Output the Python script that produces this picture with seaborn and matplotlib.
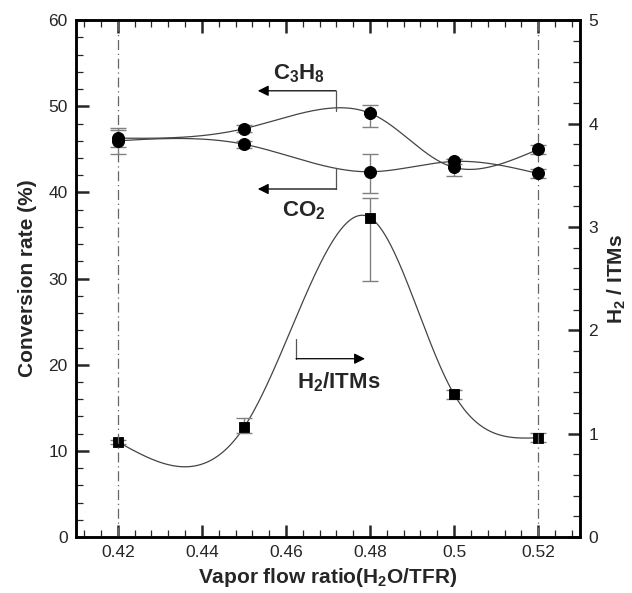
import numpy as np
import matplotlib
matplotlib.use("Agg")
import matplotlib.pyplot as plt
from matplotlib.ticker import MultipleLocator
import seaborn as sns
import pandas as pd

# Data
ratio = [0.42, 0.45, 0.48, 0.50, 0.52]

c3h8 = [46.3, 47.4, 49.2, 42.9, 45.0]
c3h8_lo = [1.0, 0.4, 1.6, 1.0, 0.5]
c3h8_hi = [1.0, 0.4, 1.0, 1.0, 0.5]

co2 = [46.0, 45.6, 42.4, 43.6, 42.2]
co2_lo = [1.5, 0.4, 2.5, 0.3, 0.5]
co2_hi = [1.5, 0.4, 2.1, 0.3, 0.5]

h2_itms = [0.92, 1.06, 3.09, 1.38, 0.96]
h2_lo = [0.02, 0.05, 0.61, 0.04, 0.045]
h2_hi = [0.02, 0.09, 0.19, 0.04, 0.045]

guide_x = [0.42, 0.52]

XLIM = (0.41, 0.53)


def natural_spline(t, y, ts):
    """Evaluate a natural cubic spline through (t, y) at ts"""
    t = np.asarray(t, float)
    y = np.asarray(y, float)
    m = len(t)
    h = np.diff(t)
    A = np.zeros((m, m))
    b = np.zeros(m)
    A[0, 0] = A[-1, -1] = 1
    for i in range(1, m - 1):
        A[i, i - 1] = h[i - 1]
        A[i, i] = 2 * (h[i - 1] + h[i])
        A[i, i + 1] = h[i]
        b[i] = 6 * ((y[i + 1] - y[i]) / h[i] - (y[i] - y[i - 1]) / h[i - 1])
    M = np.linalg.solve(A, b)
    k = np.clip(np.searchsorted(t, ts) - 1, 0, m - 2)
    hh = t[k + 1] - t[k]
    t0 = t[k + 1] - ts
    t1 = ts - t[k]
    return (M[k] * t0 ** 3 / (6 * hh) + M[k + 1] * t1 ** 3 / (6 * hh)
            + (y[k] / hh - M[k] * hh / 6) * t0
            + (y[k + 1] / hh - M[k + 1] * hh / 6) * t1)


def smooth_curve(x, y, ymax, weight=1.0, n=400):
    """Parametric spline through the points, chord length in plot space"""
    u = (np.asarray(x) - XLIM[0]) / (XLIM[1] - XLIM[0]) * 504
    v = np.asarray(y) / ymax * 517 * weight
    t = np.concatenate([[0], np.cumsum(np.hypot(np.diff(u), np.diff(v)))])
    ts = np.linspace(0, t[-1], n)
    return natural_spline(t, x, ts), natural_spline(t, y, ts)


sns.set_style("ticks")
plt.rcParams["font.family"] = ["Liberation Sans", "DejaVu Sans"]
plt.rcParams["mathtext.default"] = "regular"

df = pd.DataFrame({"ratio": ratio, "c3h8": c3h8, "co2": co2, "h2": h2_itms})

fig = plt.figure(figsize=(6.32, 5.93), dpi=100)
ax = fig.add_axes([0.120, 0.0944, 0.798, 0.8716])
ax2 = ax.twinx()

# Dash-dot guide lines
for gx in guide_x:
    ax.axvline(gx, color="#666666", lw=0.9, ls=(0, (8, 3, 1, 3)), zorder=1)

line_c = "#444444"
err_c = "#808080"

# Conversion rates (left axis)
for vals, lo, hi in [(c3h8, c3h8_lo, c3h8_hi), (co2, co2_lo, co2_hi)]:
    xs, ys = smooth_curve(ratio, vals, 60)
    ax.plot(xs, ys, color=line_c, lw=0.9, zorder=2)
    ax.errorbar(ratio, vals, yerr=[lo, hi], fmt="none", ecolor=err_c,
                elinewidth=1.0, capsize=5.5, capthick=1.0, zorder=2)
sns.scatterplot(x="ratio", y="c3h8", data=df, ax=ax, marker="o", s=75,
                color="black", edgecolor="black", zorder=3)
sns.scatterplot(x="ratio", y="co2", data=df, ax=ax, marker="o", s=75,
                color="black", edgecolor="black", zorder=3)

# H2 / ITMs (right axis)
xs, ys = smooth_curve(ratio, h2_itms, 5, weight=0.25)
ax2.plot(xs, ys, color=line_c, lw=0.9, zorder=2)
ax2.errorbar(ratio, h2_itms, yerr=[h2_lo, h2_hi], fmt="none", ecolor=err_c,
             elinewidth=1.0, capsize=5.5, capthick=1.0, zorder=2)
sns.scatterplot(x="ratio", y="h2", data=df, ax=ax2, marker="s", s=60,
                color="black", edgecolor="black", zorder=3)

# Axis ranges and ticks
ax.set_ylim(0, 60)
ax2.set_ylim(0, 5)
ax.set_xticks([0.42, 0.44, 0.46, 0.48, 0.50, 0.52])
ax.set_xticklabels(["0.42", "0.44", "0.46", "0.48", "0.5", "0.52"])
ax.xaxis.set_minor_locator(MultipleLocator(0.004))
ax.set_xlim(*XLIM)
ax.yaxis.set_major_locator(MultipleLocator(10))
ax.yaxis.set_minor_locator(MultipleLocator(2))
ax2.yaxis.set_major_locator(MultipleLocator(1))
ax2.yaxis.set_minor_locator(MultipleLocator(0.2))

for a in (ax, ax2):
    for s in a.spines.values():
        s.set_linewidth(1.8)
        s.set_color("black")
ax.tick_params(which="major", direction="in", length=9, width=1.8,
               top=True, right=False, labelsize=12.5, pad=6)
ax.tick_params(which="minor", direction="in", length=5, width=0.9,
               top=True, right=False)
ax2.tick_params(which="major", direction="in", length=9, width=1.8,
                labelsize=12.5, pad=6)
ax2.tick_params(which="minor", direction="in", length=5, width=0.9)

ax.set_xlabel("Vapor flow ratio(H$_2$O/TFR)", fontsize=15, fontweight="bold")
ax.set_ylabel("Conversion rate (%)", fontsize=15, fontweight="bold", labelpad=8)
ax2.set_ylabel("H$_2$ / ITMs", fontsize=15, fontweight="bold", labelpad=5)

# Bracket arrows and labels
arrow = dict(arrowstyle="-|>", color="black", lw=0.9, mutation_scale=16,
             shrinkA=0, shrinkB=0)
bx = 0.4719
ax.plot([bx, bx], [49.5, 51.8], color="#555555", lw=0.9)
ax.annotate("", xy=(0.4533, 51.8), xytext=(bx, 51.8), arrowprops=arrow)
ax.text(0.4631, 53.8, "C$_3$H$_8$", fontsize=16, fontweight="bold",
        ha="center", va="center")

ax.plot([bx, bx], [42.8, 40.4], color="#555555", lw=0.9)
ax.annotate("", xy=(0.4533, 40.4), xytext=(bx, 40.4), arrowprops=arrow)
ax.text(0.4643, 37.9, "CO$_2$", fontsize=16, fontweight="bold",
        ha="center", va="center")

hx = 0.4624
ax.plot([hx, hx], [23.0, 20.7], color="#555555", lw=0.9)
ax.annotate("", xy=(0.4788, 20.7), xytext=(hx, 20.7), arrowprops=arrow)
ax.text(0.4726, 18.0, "H$_2$/ITMs", fontsize=16, fontweight="bold",
        ha="center", va="center")

ax.set_zorder(ax2.get_zorder() + 1)
ax.patch.set_visible(False)

fig.savefig("out.png", dpi=100)
plt.close(fig)
